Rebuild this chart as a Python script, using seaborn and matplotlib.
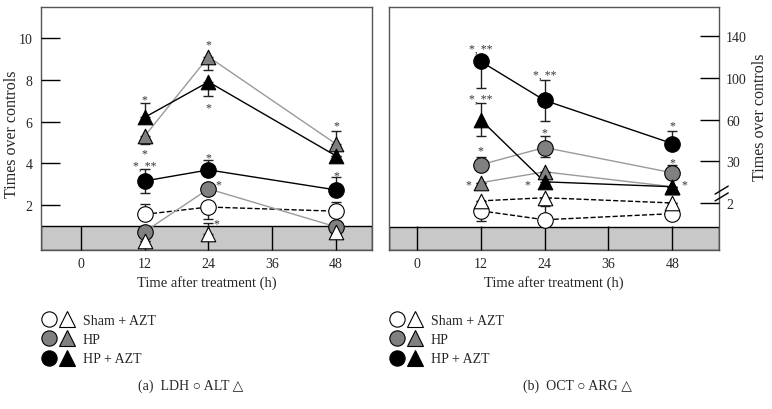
import numpy as np
import seaborn as sns
import matplotlib.pyplot as plt
from matplotlib.lines import Line2D
from matplotlib.legend_handler import HandlerTuple

hours = [12, 24, 48]
groups = ["Sham + AZT", "HP", "HP + AZT"]

# panel (a) -- LDH (circles) and ALT (triangles), times over controls
ldh_sham = [1.55, 1.9, 1.7]
ldh_sham_lo = [0, 0.55, 0]
ldh_sham_hi = [0.5, 0, 0.45]
ldh_hp = [0.72, 2.77, 0.95]
ldh_hp_lo = [0, 0, 0]
ldh_hp_hi = [0, 0, 0]
ldh_hpazt = [3.15, 3.68, 2.72]
ldh_hpazt_lo = [0.58, 0, 0]
ldh_hpazt_hi = [0.57, 0.47, 0.62]

alt_sham = [0.28, 0.6, 0.7]
alt_sham_lo = [0, 0, 0]
alt_sham_hi = [0, 0.55, 0]
alt_hp = [5.3, 9.1, 4.92]
alt_hp_lo = [0.4, 0.63, 0]
alt_hp_hi = [0, 0, 0.63]
alt_hpazt = [6.2, 7.9, 4.35]
alt_hpazt_lo = [0, 0.7, 0]
alt_hpazt_hi = [0.7, 0, 0]

# panel (b) -- OCT (circles) and ARG (triangles)
oct_sham = [1.67, 1.29, 1.55]
oct_sham_lo = [0.43, 0, 0]
oct_sham_hi = [0, 0.6, 0]
oct_hp = [27.8, 40, 22.4]
oct_hp_lo = [0, 7, 0]
oct_hp_hi = [5.6, 8, 5.4]
oct_hpazt = [116, 78.6, 42.9]
oct_hpazt_lo = [26, 19.5, 0]
oct_hpazt_hi = [0, 19.5, 9.3]

arg_sham = [3.5, 5.6, 2.1]
arg_hp = [15.7, 23, 13]
arg_hpazt = [60, 16.3, 13]
arg_hpazt_lo = [12, 0, 0]
arg_hpazt_hi = [16.5, 0, 0]
zeros = [0, 0, 0]

# significance marks: (x, y, text)
stars_a = [(12, 7.17, "*"), (12, 4.62, "*"), (12, 4.0, "*, **"),
           (24, 9.8, "*"), (24, 6.79, "*"), (24, 4.4, "*"),
           (25.9, 3.1, "*"), (25.4, 1.23, "*"),
           (48, 5.93, "*"), (48, 3.53, "*")]
stars_b = [(12, 130.7, "*, **"), (12, 82.4, "*, **"), (12, 40, "*"),
           (9.6, 16, "*"), (24, 105.6, "*, **"), (24, 53, "*"),
           (20.8, 16, "*"), (48, 58, "*"), (48, 31, "*"), (50.2, 16, "*")]

# right panel uses a piecewise (broken) y scale
scale_vals = [-10, 0, 2, 30, 60, 100, 140, 400]
scale_pos = [-6.75, -1.125, 0, 1, 2, 3, 4, 10.5]

fills = {"Sham + AZT": "white", "HP": "#808080", "HP + AZT": "black"}
lcolors = {"Sham + AZT": "black", "HP": "#9a9a9a", "HP + AZT": "black"}
lstyles = {"Sham + AZT": "--", "HP": "-", "HP + AZT": "-"}

series_a = [
    (ldh_sham, ldh_sham_lo, ldh_sham_hi, "o", "Sham + AZT", 2),
    (ldh_hp, ldh_hp_lo, ldh_hp_hi, "o", "HP", 2),
    (ldh_hpazt, ldh_hpazt_lo, ldh_hpazt_hi, "o", "HP + AZT", 2),
    (alt_sham, alt_sham_lo, alt_sham_hi, "^", "Sham + AZT", 0.5),
    (alt_hp, alt_hp_lo, alt_hp_hi, "^", "HP", 2),
    (alt_hpazt, alt_hpazt_lo, alt_hpazt_hi, "^", "HP + AZT", 2),
]
series_b = [
    (oct_sham, oct_sham_lo, oct_sham_hi, "o", "Sham + AZT", 2),
    (oct_hp, oct_hp_lo, oct_hp_hi, "o", "HP", 2),
    (oct_hpazt, oct_hpazt_lo, oct_hpazt_hi, "o", "HP + AZT", 2),
    (arg_sham, zeros, zeros, "^", "Sham + AZT", 2),
    (arg_hp, zeros, zeros, "^", "HP", 2),
    (arg_hpazt, arg_hpazt_lo, arg_hpazt_hi, "^", "HP + AZT", 2),
]

sns.set_theme(style="white")
plt.rcParams["font.family"] = ["Liberation Serif", "DejaVu Sans"]
plt.rcParams["axes.edgecolor"] = "#555555"
plt.rcParams["axes.linewidth"] = 1.0

fig = plt.figure(figsize=(7.72, 4.10), dpi=100)
ax_a = fig.add_axes([41 / 772, 159 / 410, 331 / 772, 243 / 410])
ax_b = fig.add_axes([389 / 772, 159 / 410, 330 / 772, 243 / 410])


def draw_panel(ax, series, stars, band_bottom):
    ax.set_axisbelow(False)
    ax.axhspan(band_bottom, 1, facecolor="#c8c8c8", edgecolor="black",
               linewidth=1, zorder=1)
    for vals, lo, hi, mk, grp, lz in series:
        sns.lineplot(x=hours, y=vals, ax=ax, color=lcolors[grp],
                     linestyle=lstyles[grp], linewidth=1, zorder=lz)
        ax.errorbar(hours, vals, yerr=[lo, hi], fmt="none", ecolor="#222222",
                    elinewidth=1, capsize=3.5, capthick=1, zorder=2.5)
    z = 3
    for vals, lo, hi, mk, grp, lz in series:
        sns.scatterplot(x=hours, y=vals, ax=ax, marker=mk,
                        s=125 if mk == "o" else 110, color=fills[grp],
                        edgecolor="black", linewidth=0.8, zorder=z)
        z += 0.1
    for x, y, t in stars:
        ax.annotate(t, (x, y), xytext=(0, -4.0), textcoords="offset points",
                    ha="center", va="baseline", fontsize=8.5, color="#333333",
                    zorder=5)
    ax.set_xticks([0, 12, 24, 36, 48])
    ax.tick_params(axis="x", bottom=True, direction="in", length=17, width=1,
                   color="black", labelsize=10, pad=5)
    ax.set_xlabel("Time after treatment (h)", fontsize=10.5, labelpad=4)
    ax.set_ylabel("Times over controls", fontsize=11.5)


draw_panel(ax_a, series_a, stars_a, -0.16)
ax_a.set_xlim(-7.5, 54.75)
ax_a.set_ylim(-0.16, 11.49)
ax_a.set_yticks([2, 4, 6, 8, 10])
ax_a.tick_params(axis="y", left=True, direction="in", length=14, width=1,
                 color="black", labelsize=10, pad=6)
ax_a.yaxis.set_label_coords(-0.064, 0.48)

ax_b.set_yscale("function", functions=(
    lambda v: np.interp(v, scale_vals, scale_pos),
    lambda u: np.interp(u, scale_pos, scale_vals)))
draw_panel(ax_b, series_b, stars_b, 0)
ax_b.set_xlim(-5.25, 56.8)
ax_b.set_ylim(0, 168.2)
ax_b.set_yticks([2, 30, 60, 100, 140])
ax_b.set_yticklabels(["2", "30", "60", "100", "140"])
ax_b.yaxis.tick_right()
ax_b.yaxis.set_label_position("right")
ax_b.tick_params(axis="y", right=True, direction="in", length=14, width=1,
                 color="black", labelsize=10, pad=5)
ax_b.yaxis.set_label_coords(1.1, 0.55)

# axis break marks on the right spine
for y0 in (0.230, 0.202):
    ax_b.plot([0.988, 1.028], [y0, y0 + 0.033], transform=ax_b.transAxes,
              color="black", linewidth=1, clip_on=False, zorder=6)

# legends
for ax, x0 in ((ax_a, 41 / 772), (ax_b, 389 / 772)):
    handles = []
    for g in groups:
        c = Line2D([], [], marker="o", ls="none", markersize=11,
                   markerfacecolor=fills[g], markeredgecolor="black",
                   markeredgewidth=0.8)
        t = Line2D([], [], marker="^", ls="none", markersize=11,
                   markerfacecolor=fills[g], markeredgecolor="black",
                   markeredgewidth=0.8)
        handles.append((c, t))
    ax.legend(handles, groups, loc="upper left", bbox_to_anchor=(x0, 1 - 315 / 410),
              bbox_transform=fig.transFigure, frameon=False, fontsize=10,
              handler_map={tuple: HandlerTuple(ndivide=None, pad=0.18)},
              handlelength=2.4, handletextpad=0.6, labelspacing=0.45,
              borderpad=0, borderaxespad=0)

fig.text(191 / 772, 1 - 386 / 410, "(a)  LDH \u25cb ALT \u25b3", ha="center",
         va="center", fontsize=10)
fig.text(577 / 772, 1 - 386 / 410, "(b)  OCT \u25cb ARG \u25b3", ha="center",
         va="center", fontsize=10)

fig.savefig("out.png", dpi=100)
